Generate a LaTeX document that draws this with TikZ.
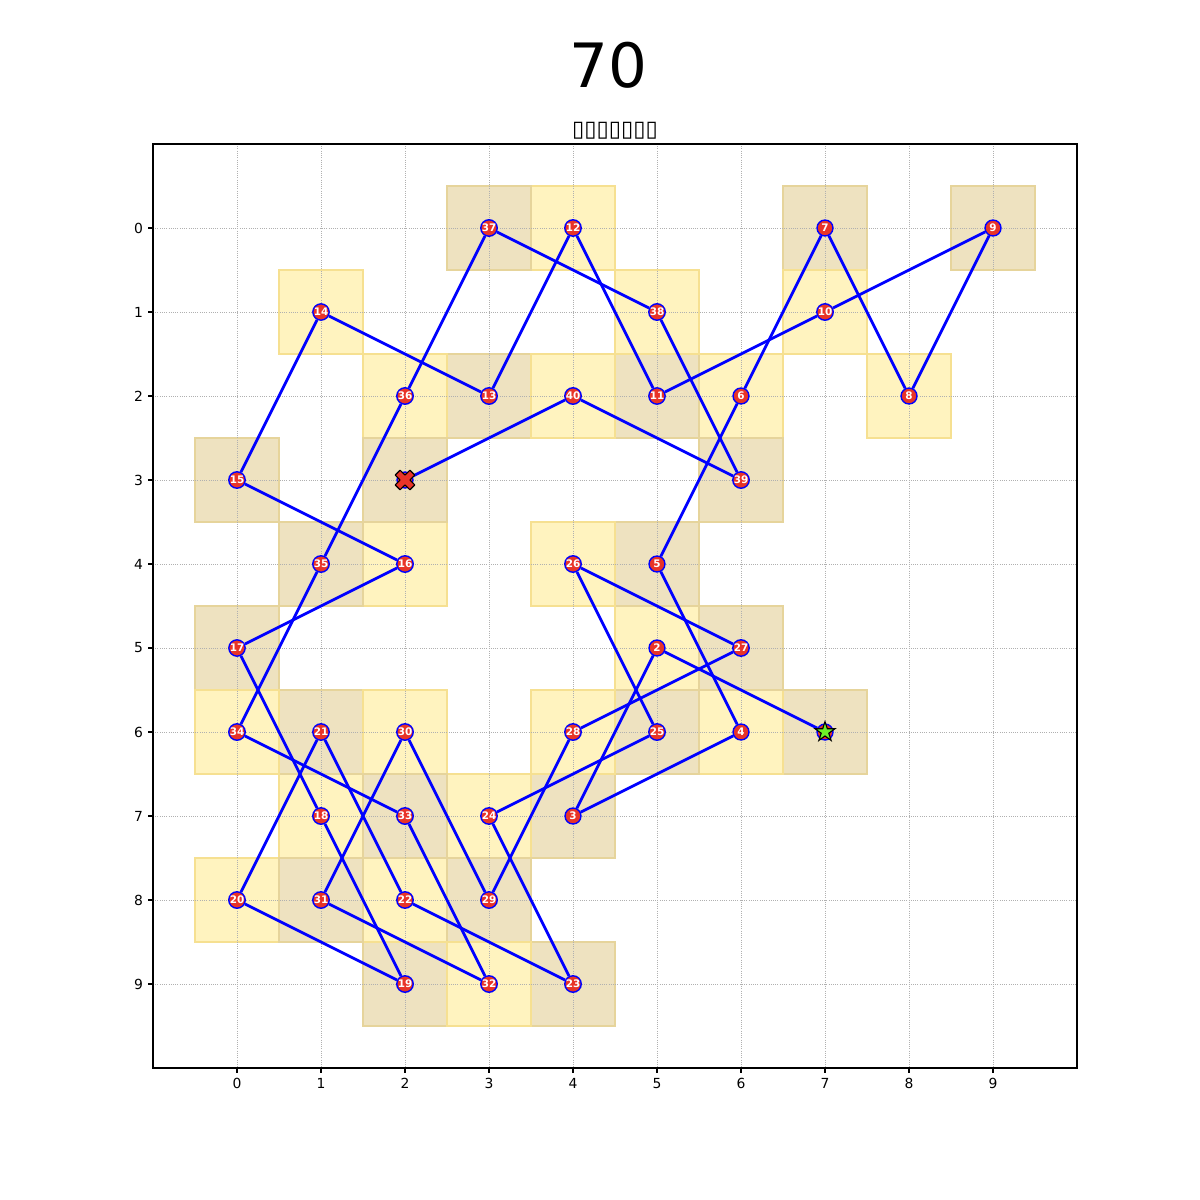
\documentclass[tikz,border=0pt]{standalone}
\usepackage{fontspec}
\setmainfont{DejaVu Sans}
\definecolor{tourblue}{HTML}{0000FF}
\definecolor{knotred}{RGB}{232,52,40}
\definecolor{lightsq}{RGB}{255,243,191}
\definecolor{lightedge}{RGB}{246,224,145}
\definecolor{darksq}{RGB}{238,226,192}
\definecolor{darkedge}{RGB}{230,212,155}
\definecolor{goalgreen}{RGB}{110,240,40}
\definecolor{gridgray}{RGB}{176,176,176}
\usetikzlibrary{calc, positioning, shapes.geometric}
\pgfdeclarelayer{back}
\pgfsetlayers{back,main}

% knight tour: step/column/row
\def\tour{1/7/6, 2/5/5, 3/4/7, 4/6/6, 5/5/4, 6/6/2, 7/7/0, 8/8/2, 9/9/0,
  10/7/1, 11/5/2, 12/4/0, 13/3/2, 14/1/1, 15/0/3, 16/2/4, 17/0/5, 18/1/7,
  19/2/9, 20/0/8, 21/1/6, 22/2/8, 23/4/9, 24/3/7, 25/5/6, 26/4/4, 27/6/5,
  28/4/6, 29/3/8, 30/2/6, 31/1/8, 32/3/9, 33/2/7, 34/0/6, 35/1/4, 36/2/2,
  37/3/0, 38/5/1, 39/6/3, 40/4/2, 41/2/3}

\begin{document}
\begin{tikzpicture}[x=60.48pt, y=-60.48pt,
  sqlight/.style={fill=lightsq, draw=lightedge, line width=0.8pt},
  sqdark/.style={fill=darksq, draw=darkedge, line width=0.8pt},
  gridline/.style={draw=gridgray, line width=0.5pt, dash pattern=on 0.6pt off 1pt},
  hop/.style={draw=tourblue, line width=2pt},
  knot/.style={circle, draw=tourblue, fill=knotred, line width=1pt,
               minimum size=11.5pt, inner sep=0pt, text=white,
               font=\fontsize{7.5}{8}\selectfont\bfseries},
  ticklab/.style={font=\fontsize{10}{12}\selectfont, inner sep=0pt},
  xmark/.style={fill=knotred, draw=black, line width=0.8pt, line join=round},
]
\useasboundingbox (-2.82143,-2.71429) rectangle (11.46429,11.57143);

% squares and grid
\begin{pgfonlayer}{back}
\foreach \n/\cx/\cy in \tour {
  \ifodd\n \def\sq{sqdark}\else \def\sq{sqlight}\fi
  \draw[\sq] (\cx-0.5,\cy-0.5) rectangle (\cx+0.5,\cy+0.5);
}
\foreach \k in {0,...,9} {
  \draw[gridline] (\k,-1) -- (\k,10);
  \draw[gridline] (-1,\k) -- (10,\k);
}
\end{pgfonlayer}

% tour points
\foreach \n/\cx/\cy in \tour {
  \ifnum\n=1 \def\lab{}\else\ifnum\n=41 \def\lab{}\else \def\lab{\n}\fi\fi
  \node[knot] (p\n) at (\cx,\cy) {\lab};
}

% moves
\begin{pgfonlayer}{back}
\foreach \n in {1,...,40} {
  \pgfmathtruncatemacro\m{\n+1}
  \draw[hop] (p\n) -- (p\m);
}
\end{pgfonlayer}

% end markers
\node[star, star points=5, star point ratio=2.618, minimum size=15pt,
      inner sep=0pt, fill=goalgreen, draw=black, line width=0.8pt] (goal) at (p1) {};
\begin{scope}[shift={(p41.center)}, rotate=45]
  \draw[xmark] (2.5pt,7.5pt) -- (-2.5pt,7.5pt) -- (-2.5pt,2.5pt) -- (-7.5pt,2.5pt)
    -- (-7.5pt,-2.5pt) -- (-2.5pt,-2.5pt) -- (-2.5pt,-7.5pt) -- (2.5pt,-7.5pt)
    -- (2.5pt,-2.5pt) -- (7.5pt,-2.5pt) -- (7.5pt,2.5pt) -- (2.5pt,2.5pt) -- cycle;
\end{scope}

% axes
\draw[line width=0.8pt] (-1,-1) rectangle (10,10);
\foreach \k in {0,...,9} {
  \draw[line width=0.8pt] (\k,10) -- ++(0,-3.5pt);
  \draw[line width=0.8pt] (-1,\k) -- ++(-3.5pt,0);
  \node[ticklab, anchor=north] (xl\k) at ([yshift=-7pt]\k,10) {\k};
  \node[ticklab, anchor=east] (yl\k) at ([xshift=-7pt]-1,\k) {\k};
}

\node[font=\fontsize{44}{50}\selectfont] (title) at (4.417,-1.94) {70};
\node[font=\fontsize{16}{18}\selectfont] (subtitle) at (4.5,-1.16) {▯▯▯▯▯▯▯};
\end{tikzpicture}
\end{document}
